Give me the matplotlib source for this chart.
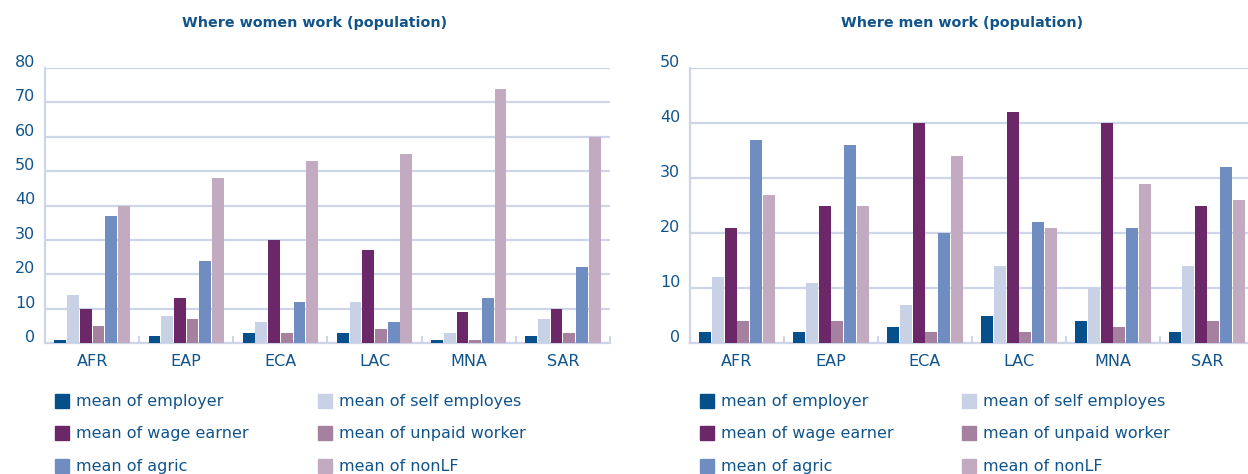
import matplotlib
matplotlib.use("Agg")
import matplotlib.pyplot as plt
import matplotlib.transforms as mtransforms
from matplotlib.patches import Rectangle
import numpy as np

plt.rcParams['font.family'] = ['DejaVu Sans']

regions = ["AFR", "EAP", "ECA", "LAC", "MNA", "SAR"]
series_names = ["mean of employer", "mean of self employes", "mean of wage earner",
                "mean of unpaid worker", "mean of agric", "mean of nonLF"]
colors = ["#05508a", "#c9d1e6", "#6c2768", "#a5819f", "#6f8dc1", "#c2abc1"]

women_employer = [1, 2, 3, 3, 1, 2]
women_self = [14, 8, 6, 12, 3, 7]
women_wage = [10, 13, 30, 27, 9, 10]
women_unpaid = [5, 7, 3, 4, 1, 3]
women_agric = [37, 24, 12, 6, 13, 22]
women_nonlf = [40, 48, 53, 55, 74, 60]

men_employer = [2, 2, 3, 5, 4, 2]
men_self = [12, 11, 7, 14, 10, 14]
men_wage = [21, 25, 40, 42, 40, 25]
men_unpaid = [4, 4, 2, 2, 3, 4]
men_agric = [37, 36, 20, 22, 21, 32]
men_nonlf = [27, 25, 34, 21, 29, 26]

women = [women_employer, women_self, women_wage, women_unpaid, women_agric, women_nonlf]
men = [men_employer, men_self, men_wage, men_unpaid, men_agric, men_nonlf]

TEXT = "#11548a"
GRID = "#cfd5e8"
W, H = 1248, 474
fig = plt.figure(figsize=(W / 100, H / 100), dpi=100)


def px_axes(x0, x1, ytop, ybot):
    return [x0 / W, 1 - ybot / H, (x1 - x0) / W, (ybot - ytop) / H]


def draw(ax, data, ymax, title, title_x):
    x = np.arange(len(regions))
    stride = 0.135
    bw = 0.125
    for i, vals in enumerate(data):
        ax.bar(x + (i - 2.5) * stride, vals, width=bw, color=colors[i], zorder=3)
    ax.set_xlim(-0.5, len(regions) - 0.5)
    ax.set_ylim(0, ymax)
    ax.set_yticks(np.arange(0, ymax + 1, 10))
    ax.yaxis.grid(True, color=GRID, linewidth=1.6, zorder=0)
    ax.set_axisbelow(True)
    for s in ["top", "right"]:
        ax.spines[s].set_visible(False)
    for s in ["left", "bottom"]:
        ax.spines[s].set_color(GRID)
        ax.spines[s].set_linewidth(1.6)
    ax.set_xticks(x)
    ax.set_xticklabels(regions)
    ax.set_xticks(np.arange(0.5, len(regions), 1.0), minor=True)
    ax.tick_params(axis="x", which="major", length=0, pad=8, labelsize=11.5, labelcolor=TEXT)
    ax.tick_params(axis="x", which="minor", direction="in", length=5, width=1.5, color=GRID)
    ax.tick_params(axis="y", length=0, pad=7, labelsize=11.5, labelcolor=TEXT)
    off = mtransforms.ScaledTranslation(0, 1 / 100, fig.dpi_scale_trans)
    for lab in ax.get_yticklabels():
        lab.set_verticalalignment("baseline")
        lab.set_transform(lab.get_transform() + off)
    fig.text(title_x / W, 1 - 23 / H, title, ha="center", va="center",
             fontsize=10.3, fontweight="bold", color=TEXT)


axL = fig.add_axes(px_axes(45, 610, 68, 343))
draw(axL, women, 80, "Where women work (population)", 315)
axR = fig.add_axes(px_axes(690, 1254, 68, 343))
draw(axR, men, 50, "Where men work (population)", 962)

# legends
rows_y = [401, 433, 465.5]
for sq_cols, txt_cols in [((55, 318), (76, 339)), ((700, 962), (721, 983))]:
    for i, name in enumerate(series_names):
        r, c = i // 2, i % 2
        yc = rows_y[r]
        fig.patches.append(Rectangle((sq_cols[c] / W, 1 - (yc + 7) / H), 14 / W, 14 / H,
                                     transform=fig.transFigure, color=colors[i], figure=fig))
        fig.text(txt_cols[c] / W, 1 - (yc + 5.2) / H, name, ha="left", va="baseline",
                 fontsize=11.5, color=TEXT)

fig.savefig("out.png", dpi=100)
